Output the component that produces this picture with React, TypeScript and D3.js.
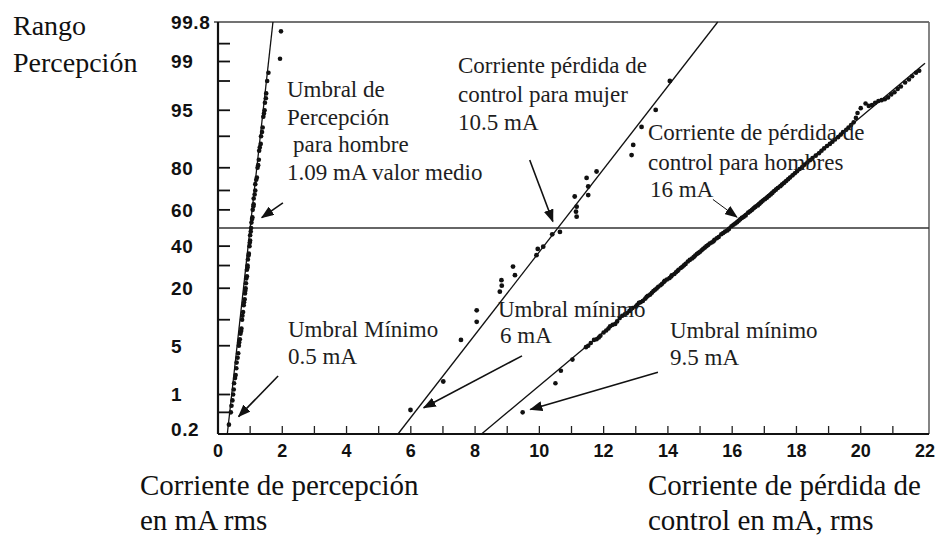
import React from "react";
import * as d3 from "d3";

// ---------- data ----------
const yTickLabels = [99.8, 99, 95, 80, 60, 40, 20, 5, 1, 0.2];
const yMinorTicks = [99.5, 99, 98, 95, 90, 80, 70, 60, 40, 30, 20, 10, 5, 1, 0.5];
const xTickLabels = [0, 2, 4, 6, 8, 10, 12, 14, 16, 18, 20, 22];
const xMinorTicks = d3.range(1, 22);

// [current mA, cumulative percent]
const perceptionPoints: [number, number][] = [
  [0.34, 0.3], [0.4, 0.5], [0.45, 0.8], [0.47, 1], [0.5, 1.5], [0.55, 2], [0.58, 3],
  [0.63, 4], [0.65, 5], [0.68, 6], [0.7, 7], [0.73, 8], [0.75, 10], [0.78, 12],
  [0.8, 14], [0.83, 16], [0.84, 18], [0.86, 20], [0.87, 22], [0.9, 25], [0.9, 28],
  [0.92, 30], [0.93, 33], [0.96, 36], [0.98, 40], [1.0, 43], [1.0, 46], [1.03, 50],
  [1.04, 53], [1.07, 56], [1.08, 60], [1.11, 63], [1.11, 66], [1.16, 70], [1.16, 73],
  [1.21, 76], [1.23, 80], [1.27, 83], [1.28, 86], [1.33, 88], [1.34, 90], [1.39, 92],
  [1.41, 94], [1.45, 95], [1.46, 96], [1.5, 97], [1.53, 98], [1.57, 98.5],
  [0.42, 0.65], [0.49, 1.2], [0.53, 1.8], [0.57, 2.5], [0.61, 3.5], [0.66, 5.5],
  [0.72, 7.5], [0.76, 11], [0.81, 15], [0.85, 19], [0.88, 24], [0.92, 29], [0.95, 35],
  [0.99, 42], [1.02, 48], [1.06, 55], [1.1, 62], [1.14, 68], [1.19, 75], [1.25, 81],
  [1.3, 87], [1.37, 91], [1.43, 94.5], [1.49, 96.5],
  [1.93, 99.1], [1.96, 99.7],
];
const womenLossPoints: [number, number][] = [
  [5.99, 0.55], [7.01, 1.6], [7.56, 5.9], [8.05, 9.5], [8.05, 12.5], [8.77, 18.7],
  [8.83, 21], [8.82, 23.3], [9.18, 29.5], [9.24, 25.5], [9.91, 35.2], [9.95, 38.5],
  [10.12, 39.7], [10.4, 46.5], [10.64, 47.8], [11.16, 56.3], [11.14, 59], [11.16, 61.7],
  [11.1, 67], [11.52, 67.7], [11.52, 71.9], [11.47, 75.8], [11.78, 78.5], [12.87, 84.6],
  [12.92, 87.7], [13.18, 92.1], [13.62, 95.05], [14.06, 98.0],
];
const menLossPoints: [number, number][] = [
  [9.48, 0.5], [10.5, 1.5], [10.67, 2.3], [11.03, 3.3],
  [11.45, 4.8], [11.6, 5.4], [11.78, 6.0], [11.9, 6.6], [12.0, 7.2], [12.15, 8],
  [12.28, 8.8], [12.42, 9.6], [12.5, 10.4], [12.66, 11.4], [12.8, 12.3], [12.9, 13.2],
  [13.05, 14.2], [13.15, 15], [13.3, 16.2], [13.38, 17.2], [13.5, 18.3], [13.6, 19.4],
  [13.7, 20.6], [13.82, 21.8], [13.9, 23], [14.05, 24.2], [14.12, 25.4], [14.25, 26.8],
  [14.33, 28], [14.45, 29.4], [14.55, 30.8], [14.62, 32], [14.75, 33.5], [14.85, 35],
  [14.95, 36.4], [15.05, 37.8], [15.15, 39.2], [15.25, 40.6], [15.36, 42], [15.45, 43.5],
  [15.58, 45], [15.66, 46.5], [15.78, 48], [15.9, 49.5], [15.98, 51], [16.1, 52.5],
  [16.2, 54], [16.3, 55.6], [16.42, 57], [16.5, 58.5], [16.62, 60], [16.72, 61.6],
  [16.85, 63.2], [16.95, 64.8], [17.08, 66.4], [17.2, 68], [17.3, 69.6], [17.42, 71.2],
  [17.55, 72.8], [17.68, 74.4], [17.8, 76], [17.95, 77.8], [18.1, 79.5], [18.25, 81.2],
  [18.42, 82.8], [18.6, 84.4], [18.78, 86], [18.95, 87.4], [19.12, 88.6], [19.3, 89.8],
  [19.45, 91], [19.62, 92], [19.78, 93], [19.9, 94.6], [20.0, 95.3], [20.15, 95.9],
  [20.35, 95.7], [20.55, 96.2], [20.75, 96.4], [20.95, 96.9], [21.15, 97.4],
  [21.38, 97.9], [21.6, 98.3], [21.82, 98.6],
  [11.52, 5.0], [11.7, 5.9], [11.85, 6.3], [12.08, 7.6], [12.2, 8.5], [12.36, 9.0],
  [12.58, 11.0], [12.72, 11.7], [12.85, 12.9], [13.0, 13.6], [13.1, 14.8], [13.22, 15.4],
  [13.34, 16.8], [13.45, 17.6], [13.55, 18.9], [13.65, 19.9], [13.77, 21.2], [13.88, 22.6],
  [13.97, 23.6], [14.1, 24.9], [14.2, 26.0], [14.3, 27.4], [14.4, 28.8], [14.5, 30.1],
  [14.68, 32.8], [14.8, 34.2], [14.9, 35.8], [15.0, 37.0], [15.1, 38.6], [15.2, 40],
  [15.3, 41.4], [15.42, 42.6], [15.52, 44.3], [15.72, 47.2], [15.85, 48.6], [16.04, 51.8],
  [16.15, 53.2], [16.25, 54.8], [16.36, 56.2], [16.56, 59.2], [16.67, 60.9], [16.8, 62.3],
  [16.9, 64], [17.02, 65.6], [17.14, 67.2], [17.25, 68.8], [17.36, 70.4], [17.5, 72],
  [17.62, 73.6], [17.74, 75.2], [17.88, 76.9], [18.02, 78.6], [18.18, 80.3], [18.34, 82],
  [18.5, 83.6], [18.7, 85.2], [18.86, 86.7], [19.04, 88], [19.2, 89.2], [19.38, 90.4],
  [19.55, 91.5], [19.7, 92.5], [19.85, 93.8], [20.25, 95.6], [20.45, 96.0], [20.65, 96.3],
  [20.85, 96.6], [21.05, 97.1], [21.25, 97.6], [21.5, 98.1], [21.72, 98.5],
];

// fitted lines: [current, percent] end points
const perceptionLine: [number, number][] = [[0.29, 0.2], [1.71, 99.8]];
const womenLossLine: [number, number][] = [[5.6, 0.2], [15.55, 99.8]];
const menLossLine: [number, number][] = [[8.2, 0.2], [22.0, 98.93]];

// annotation arrows: from [current, percent] to [current, percent]
const arrows: [number, number, number, number][] = [
  [2.02, 63.7, 1.36, 55.8],
  [1.87, 1.93, 0.64, 0.42],
  [9.7, 82.9, 10.42, 53.6],
  [15.4, 65.5, 16.15, 56.0],
  [9.46, 3.7, 6.4, 0.6],
  [13.69, 2.2, 9.72, 0.56],
];

// ---------- helpers ----------
function probit(p: number): number {
  const a = [-3.969683028665376e1, 2.209460984245205e2, -2.759285104469687e2, 1.38357751867269e2, -3.066479806614716e1, 2.506628277459239];
  const b = [-5.447609879822406e1, 1.615858368580409e2, -1.556989798598866e2, 6.680131188771972e1, -1.328068155288572e1];
  const c = [-7.784894002430293e-3, -3.223964580411365e-1, -2.400758277161838, -2.549732539343734, 4.374664141464968, 2.938163982698783];
  const d = [7.784695709041462e-3, 3.224671290700398e-1, 2.445134137142996, 3.754408661907416];
  const pl = 0.02425;
  if (p < pl) {
    const q = Math.sqrt(-2 * Math.log(p));
    return (((((c[0] * q + c[1]) * q + c[2]) * q + c[3]) * q + c[4]) * q + c[5]) / ((((d[0] * q + d[1]) * q + d[2]) * q + d[3]) * q + 1);
  }
  if (p <= 1 - pl) {
    const q = p - 0.5, r = q * q;
    return ((((((a[0] * r + a[1]) * r + a[2]) * r + a[3]) * r + a[4]) * r + a[5]) * q) / (((((b[0] * r + b[1]) * r + b[2]) * r + b[3]) * r + b[4]) * r + 1);
  }
  const q = Math.sqrt(-2 * Math.log(1 - p));
  return -(((((c[0] * q + c[1]) * q + c[2]) * q + c[3]) * q + c[4]) * q + c[5]) / ((((d[0] * q + d[1]) * q + d[2]) * q + d[3]) * q + 1);
}

const X0 = 218, X1 = 925, RIGHT = 929, TOP = 22, BOTTOM = 434;
const xScale = d3.scaleLinear().domain([0, 22]).range([X0, X1]);
const zScale = d3.scaleLinear().domain([probit(0.002), probit(0.998)]).range([BOTTOM, TOP]);
const yScale = (p: number) => zScale(probit(p / 100));

const lineGen = d3.line<[number, number]>().x((d) => xScale(d[0])).y((d) => yScale(d[1]));

const serif = "'Liberation Serif', 'Times New Roman', serif";
const sans = "'Liberation Sans', Arial, sans-serif";

export default function App() {
  const annoStyle = { fontFamily: serif, fontSize: 23, fill: "#1e1e1e" } as const;
  return (
    <div style={{ position: "fixed", left: 0, top: 0 }}>
      <svg width={940} height={536} style={{ display: "block", background: "#fff" }}>
        <defs>
          <marker id="ah" markerUnits="userSpaceOnUse" markerWidth={14} markerHeight={10} refX={12} refY={5} orient="auto">
            <path d="M0,0 L13,5 L0,10 Z" fill="#111" />
          </marker>
        </defs>

        {/* frame */}
        <line x1={X0 - 4} x2={RIGHT} y1={TOP} y2={TOP} stroke="#444" strokeWidth={1.6} />
        <line x1={RIGHT} x2={RIGHT} y1={TOP} y2={BOTTOM} stroke="#666" strokeWidth={1.6} />
        <line x1={X0} x2={RIGHT} y1={BOTTOM} y2={BOTTOM} stroke="#111" strokeWidth={2} />
        <line x1={X0} x2={X0} y1={TOP} y2={BOTTOM} stroke="#111" strokeWidth={2.2} />
        {/* 50% line */}
        <line x1={X0} x2={RIGHT} y1={yScale(50)} y2={yScale(50)} stroke="#333" strokeWidth={1.4} />

        {/* y ticks */}
        {yMinorTicks.map((t) => (
          <line key={"ym" + t} x1={X0} x2={X0 + 12} y1={yScale(t)} y2={yScale(t)} stroke="#111" strokeWidth={1.8} />
        ))}
        {yTickLabels.map((t) => (
          <text key={"yl" + t} x={171} y={Math.min(yScale(t), BOTTOM - 5)} dy="0.36em" fontFamily={sans} fontWeight="bold" fontSize={19} letterSpacing={0.6} fill="#111">
            {String(t)}
          </text>
        ))}

        {/* x ticks */}
        {xMinorTicks.map((t) => (
          <line key={"xm" + t} x1={xScale(t)} x2={xScale(t)} y1={BOTTOM} y2={BOTTOM - 8} stroke="#222" strokeWidth={1.3} />
        ))}
        {xTickLabels.map((t) => (
          <text key={"xl" + t} x={xScale(t)} y={457} textAnchor="middle" fontFamily={sans} fontWeight="bold" fontSize={18} fill="#111">
            {String(t)}
          </text>
        ))}

        {/* fitted lines */}
        {[perceptionLine, womenLossLine, menLossLine].map((l, i) => (
          <path key={"fl" + i} d={lineGen(l) || ""} stroke="#111" strokeWidth={1.3} fill="none" />
        ))}

        {/* points */}
        {perceptionPoints.map((p, i) => (
          <circle key={"pp" + i} cx={xScale(p[0])} cy={yScale(p[1])} r={2.3} fill="#111" />
        ))}
        {womenLossPoints.map((p, i) => (
          <circle key={"wp" + i} cx={xScale(p[0])} cy={yScale(p[1])} r={2.4} fill="#111" />
        ))}
        {menLossPoints.map((p, i) => (
          <circle key={"mp" + i} cx={xScale(p[0])} cy={yScale(p[1])} r={2.3} fill="#111" />
        ))}

        {/* arrows */}
        {arrows.map((a, i) => (
          <line key={"ar" + i} x1={xScale(a[0])} y1={yScale(a[1])} x2={xScale(a[2])} y2={yScale(a[3])} stroke="#111" strokeWidth={i === 3 ? 1 : 1.6} markerEnd="url(#ah)" />
        ))}

        {/* annotations */}
        <g style={annoStyle as any}>
          <text x={287} y={97}>Umbral de</text>
          <text x={287} y={125}>Percepción</text>
          <text x={293} y={152}>para hombre</text>
          <text x={287} y={180}>1.09 mA valor medio</text>

          <text x={458} y={73}>Corriente pérdida de</text>
          <text x={458} y={102}>control para mujer</text>
          <text x={458} y={130}>10.5 mA</text>

          <text x={648} y={140}>Corriente de pérdida de</text>
          <text x={648} y={170}>control para hombres</text>
          <text x={650} y={197}>16 mA</text>

          <text x={288} y={337}>Umbral Mínimo</text>
          <text x={288} y={364}>0.5 mA</text>

          <text x={498} y={317}>Umbral mínimo</text>
          <text x={500} y={343}>6 mA</text>

          <text x={670} y={338}>Umbral mínimo</text>
          <text x={670} y={365}>9.5 mA</text>
        </g>

        {/* axis titles */}
        <g fontFamily={serif} fontSize={28} fill="#111">
          <text x={13} y={35}>Rango</text>
          <text x={13} y={72}>Percepción</text>
        </g>
        <g fontFamily={serif} fontSize={29} fill="#111">
          <text x={140} y={495}>Corriente de percepción</text>
          <text x={140} y={530}>en mA rms</text>
          <text x={648} y={495}>Corriente de pérdida de</text>
          <text x={648} y={530}>control en mA, rms</text>
        </g>
      </svg>
    </div>
  );
}
